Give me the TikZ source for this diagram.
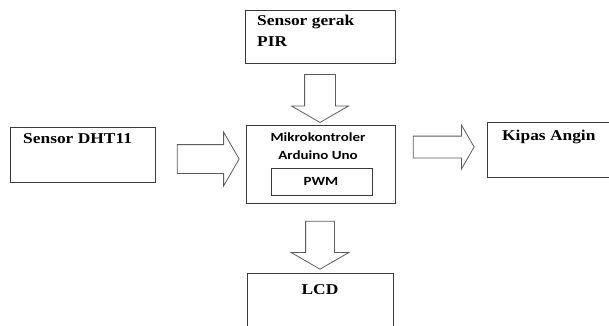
\documentclass[tikz,border=0pt]{standalone}
\usepackage{fontspec}
\setmainfont{Liberation Serif}
\newfontfamily\boxserif{Liberation Serif}[FakeStretch=1.16]
\newfontfamily\boxsans{Carlito}[FakeStretch=1.2]
\usetikzlibrary{shapes.arrows}
\definecolor{frame}{HTML}{3A3A3A}
\definecolor{arrowline}{HTML}{5C5C5C}

\begin{document}
\begin{tikzpicture}[x=1pt,y=-1pt,
	blok/.style={draw=frame,line width=0.9pt,inner sep=0pt},
	panah/.style={single arrow,draw=arrowline,fill=white,line width=0.8pt,inner xsep=0pt,
		single arrow tip angle=120,single arrow head indent=0pt},
	judul/.style={font=\boxserif\bfseries\fontsize{15}{21}\selectfont,inner sep=0pt},
	isi/.style={font=\boxsans\bfseries\fontsize{12.5}{18}\selectfont,inner sep=0pt}]
		%
		\useasboundingbox (0,0) rectangle (609,325);
		% kotak
		\node[blok,minimum width=150pt,minimum height=53pt] (pir) at (320,36.5) {};
		\node[blok,minimum width=145pt,minimum height=55pt] (dht) at (82.5,154.5) {};
		\node[blok,minimum width=149pt,minimum height=78pt] (mcu) at (320.5,164) {};
		\node[blok,minimum width=101pt,minimum height=27pt] (pwm) at (321.5,181.5) {};
		\node[blok,minimum width=148pt,minimum height=55pt] (kipas) at (561,149.5) {};
		\node[blok,minimum width=146pt,minimum height=57pt] (lcd) at (320,301.5) {};
		%
		\node[judul,anchor=north west,align=left] (tpir) at (257,15) {Sensor gerak\\PIR};
		\node[judul,anchor=base west] (tdht) at (23,143) {Sensor DHT11};
		\node[judul,anchor=base west] (tkipas) at (502,140) {Kipas Angin};
		\node[judul,anchor=base] (tlcd) at (320,294) {LCD};
		\node[isi,anchor=base] (tmcu1) at (318,141) {Mikrokontroler};
		\node[isi,anchor=base] (tmcu2) at (318,159) {Arduino Uno};
		\node[isi,anchor=base] (tpwm) at (321,185) {PWM};
		% panah
		\node[panah,rotate=-90,minimum height=48pt,inner ysep=15pt,single arrow head extend=13pt] (p1) at (320,94) {};
		\node[panah,minimum height=62pt,inner ysep=14pt,single arrow head extend=12.5pt] (p2) at (204,159) {};
		\node[panah,minimum height=61pt,inner ysep=10.5pt,single arrow head extend=11pt] (p3) at (440.5,147) {};
		\node[panah,rotate=-90,minimum height=48pt,inner ysep=14pt,single arrow head extend=14.5pt] (p4) at (320,241) {};
	\end{tikzpicture}
\end{document}
